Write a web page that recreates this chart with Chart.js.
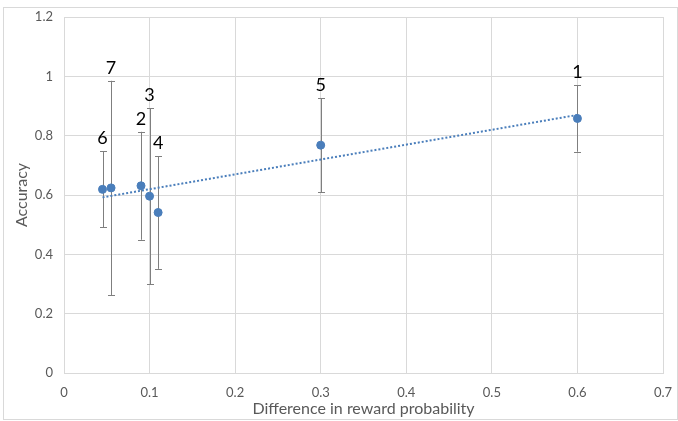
<!DOCTYPE html>
<html>
<head>
<meta charset="utf-8">
<script src="https://cdn.jsdelivr.net/npm/chart.js@4/dist/chart.umd.min.js"></script>
<style>
html,body{margin:0;padding:0;background:#fff;}
#wrap{width:678px;height:421px;}
</style>
</head>
<body>
<div id="wrap"><canvas id="c" width="678" height="421"></canvas></div>
<script>
const pointLabels = ['1', '2', '3', '4', '5', '6', '7'];
const diffValues = [0.6, 0.09, 0.1, 0.11, 0.3, 0.045, 0.055];
const accuracyValues = [0.858, 0.631, 0.596, 0.541, 0.768, 0.619, 0.624];
const errorValues = [0.112, 0.182, 0.297, 0.19, 0.158, 0.128, 0.361];
const xTicks = [0, 0.1, 0.2, 0.3, 0.4, 0.5, 0.6, 0.7];
const yTicks = [0, 0.2, 0.4, 0.6, 0.8, 1, 1.2];

// Linear trendline (least squares) computed from the data
const n = diffValues.length;
const mx = diffValues.reduce((a, b) => a + b, 0) / n;
const my = accuracyValues.reduce((a, b) => a + b, 0) / n;
let sxy = 0, sxx = 0;
for (let i = 0; i < n; i++) {
  sxy += (diffValues[i] - mx) * (accuracyValues[i] - my);
  sxx += (diffValues[i] - mx) * (diffValues[i] - mx);
}
const slope = sxy / sxx;
const intercept = my - slope * mx;
const xMin = Math.min(...diffValues), xMax = Math.max(...diffValues);
const trendData = [xMin, xMax].map(x => ({x: x, y: intercept + slope * x}));

const pts = diffValues.map((x, i) => ({x: x, y: accuracyValues[i]}));

const FONT = 'Lato, "Open Sans", sans-serif';

const frame = {
  id: 'frame',
  beforeDraw(chart) {
    const ctx = chart.ctx;
    ctx.save();
    ctx.fillStyle = '#fff';
    ctx.fillRect(0, 0, chart.width, chart.height);
    ctx.strokeStyle = '#d9d9d9';
    ctx.lineWidth = 1;
    ctx.strokeRect(3.5, 7.5, 674, 412);
    ctx.restore();
  }
};

const errorBars = {
  id: 'errorBars',
  beforeDatasetsDraw(chart) {
    const ctx = chart.ctx;
    const xs = chart.scales.x, ys = chart.scales.y;
    ctx.save();
    ctx.strokeStyle = '#7f7f7f';
    ctx.lineWidth = 1;
    for (let i = 0; i < diffValues.length; i++) {
      const px = Math.round(xs.getPixelForValue(diffValues[i])) + 0.5;
      const top = ys.getPixelForValue(accuracyValues[i] + errorValues[i]);
      const bot = ys.getPixelForValue(accuracyValues[i] - errorValues[i]);
      ctx.beginPath();
      ctx.moveTo(px, top); ctx.lineTo(px, bot);
      ctx.moveTo(px - 3.5, Math.round(top) + 0.5); ctx.lineTo(px + 3.5, Math.round(top) + 0.5);
      ctx.moveTo(px - 3.5, Math.round(bot) + 0.5); ctx.lineTo(px + 3.5, Math.round(bot) + 0.5);
      ctx.stroke();
    }
    ctx.restore();
  },
  afterDatasetsDraw(chart) {
    const ctx = chart.ctx;
    const xs = chart.scales.x, ys = chart.scales.y;
    ctx.save();
    ctx.fillStyle = '#000';
    ctx.font = '18px ' + FONT;
    ctx.textAlign = 'center';
    ctx.textBaseline = 'middle';
    for (let i = 0; i < diffValues.length; i++) {
      const px = xs.getPixelForValue(diffValues[i]);
      const top = ys.getPixelForValue(accuracyValues[i] + errorValues[i]);
      ctx.fillText(pointLabels[i], px, top - 13);
    }
    ctx.restore();
  }
};

new Chart(document.getElementById('c'), {
  type: 'scatter',
  data: {
    datasets: [
      {
        label: 'Accuracy',
        data: pts,
        backgroundColor: '#4a7ebb',
        borderColor: '#4a7ebb',
        pointRadius: 4,
        pointHoverRadius: 4,
        order: 1
      },
      {
        label: 'Trend',
        data: trendData,
        showLine: true,
        borderColor: '#4a7ebb',
        borderWidth: 2,
        borderDash: [2, 2],
        pointRadius: 0,
        fill: false,
        order: 2
      }
    ]
  },
  plugins: [frame, errorBars],
  options: {
    responsive: false,
    animation: false,
    layout: {autoPadding: false, padding: {left: 0, right: 15, top: 17, bottom: 0}},
    plugins: {legend: {display: false}, tooltip: {enabled: false}},
    scales: {
      x: {
        type: 'linear',
        min: 0, max: 0.7,
        afterBuildTicks(s) { s.ticks = xTicks.map(v => ({value: v})); },
        afterFit(s) { s.height = 48; s.paddingRight = 0; s.paddingLeft = 0; },
        grid: {color: '#d9d9d9', drawTicks: false},
        border: {color: '#d9d9d9'},
        ticks: {
          color: '#595959', padding: 12,
          font: {family: FONT, size: 13},
          callback: v => String(v)
        },
        title: {
          display: true, text: 'Difference in reward probability',
          color: '#595959', font: {family: FONT, size: 16},
          padding: {top: 0, bottom: 3}
        }
      },
      y: {
        type: 'linear',
        min: 0, max: 1.2,
        afterBuildTicks(s) { s.ticks = yTicks.map(v => ({value: v})); },
        afterFit(s) { s.width = 64; s.paddingTop = 0; s.paddingBottom = 0; },
        grid: {color: '#d9d9d9', drawTicks: false},
        border: {color: '#d9d9d9'},
        ticks: {
          color: '#595959', padding: 11,
          font: {family: FONT, size: 13},
          callback: v => String(v)
        },
        title: {
          display: true, text: 'Accuracy',
          color: '#595959', font: {family: FONT, size: 16},
          padding: {top: 12, bottom: 0}
        }
      }
    }
  }
});
</script>
</body>
</html>
